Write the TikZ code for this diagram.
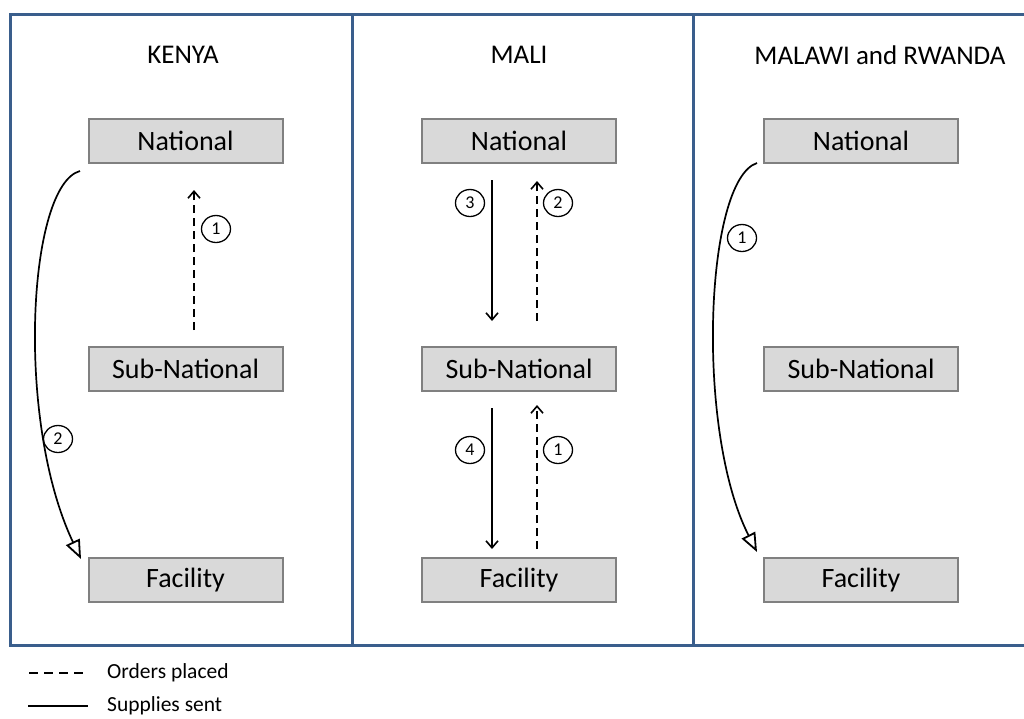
\documentclass[tikz,border=0pt]{standalone}
\usepackage{fontspec}
\setmainfont{Carlito}
\usetikzlibrary{arrows.meta,shapes.geometric}
\definecolor{frameblue}{HTML}{3A5E8C}
\definecolor{boxfill}{HTML}{D9D9D9}
\definecolor{boxline}{HTML}{808080}
\tikzset{
  lvl/.style={draw=boxline, line width=2pt, fill=boxfill, minimum width=194pt, minimum height=44pt, inner sep=0pt, font=\fontsize{28}{32}\selectfont},
  ttl/.style={font=\fontsize{27}{31}\selectfont, inner sep=0pt},
  num/.style={draw, ellipse, line width=1.3pt, minimum width=29pt, minimum height=27pt, inner sep=0pt, font=\fontsize{18}{20}\selectfont},
  order/.style={line width=1.7pt, dash pattern=on 8pt off 5pt, -{Straight Barb[length=7pt, width=12pt, line width=1.6pt]}},
  supply/.style={line width=1.7pt, -{Straight Barb[length=7pt, width=12pt, line width=1.6pt]}},
  longsupply/.style={line width=1.7pt, -{Triangle[open, length=19pt, width=15pt, line width=1.8pt]}},
  legtxt/.style={anchor=west, inner sep=0pt, font=\fontsize{21.5}{25}\selectfont}
}
\begin{document}
\begin{tikzpicture}[x=1pt, y=-1pt]
\useasboundingbox (0,0) rectangle (1024,718);
% frame
\draw[frameblue, line width=3pt] (1040,14) -- (10,14) -- (10,645) -- (1040,645);
\draw[frameblue, line width=3pt] (352,14) -- (352,645);
\draw[frameblue, line width=3pt] (693,14) -- (693,645);
% titles
\node[ttl] (tk) at (183,55) {KENYA};
\node[ttl] (tm) at (519,55) {MALI};
\node[ttl] (tr) at (880,55) {MALAWI and RWANDA};
% boxes
\node[lvl] (kn) at (185.5,140.5) {National};
\node[lvl] (ks) at (185.5,369) {Sub-National};
\node[lvl] (kf) at (185.5,580) {Facility};
\node[lvl] (mn) at (519,140.5) {National};
\node[lvl] (ms) at (519,369) {Sub-National};
\node[lvl] (mf) at (519,580) {Facility};
\node[lvl] (rn) at (861,140.5) {National};
\node[lvl] (rs) at (861,369) {Sub-National};
\node[lvl] (rf) at (861,580) {Facility};
% Kenya
\coordinate (k1a) at (194,330);
\coordinate (k1b) at (194,190);
\draw[order] (k1a) -- (k1b);
\node[num] (kc1) at (216,229) {1};
\coordinate (k2a) at (80,171);
\coordinate (k2b) at (81,559);
\draw[longsupply] (k2a) .. controls (28,185) and (15,420) .. (k2b);
\node[num] (kc2) at (58,439) {2};
% Mali
\coordinate (m3a) at (492,180);
\coordinate (m3b) at (492,321);
\draw[supply] (m3a) -- (m3b);
\coordinate (m2a) at (537,321);
\coordinate (m2b) at (537,181);
\draw[order] (m2a) -- (m2b);
\node[num] (mc3) at (470,203) {3};
\node[num] (mc2) at (558,203) {2};
\coordinate (m4a) at (492,408);
\coordinate (m4b) at (492,549);
\draw[supply] (m4a) -- (m4b);
\coordinate (m1a) at (537,549);
\coordinate (m1b) at (537,405);
\draw[order] (m1a) -- (m1b);
\node[num] (mc4) at (470,450) {4};
\node[num] (mc1) at (558,450) {1};
% Malawi / Rwanda
\coordinate (r1a) at (757,163);
\coordinate (r1b) at (757,552);
\draw[longsupply] (r1a) .. controls (705,180) and (695,430) .. (r1b);
\node[num] (rc1) at (742,238) {1};
% legend
\coordinate (l1a) at (29,673);
\coordinate (l1b) at (84,673);
\draw[line width=1.7pt, dash pattern=on 9pt off 6pt] (l1a) -- (l1b);
\node[legtxt] (lt1) at (107,673) {Orders placed};
\coordinate (l2a) at (28,706);
\coordinate (l2b) at (88,706);
\draw[line width=1.7pt] (l2a) -- (l2b);
\node[legtxt] (lt2) at (107,706) {Supplies sent};
\end{tikzpicture}
\end{document}
